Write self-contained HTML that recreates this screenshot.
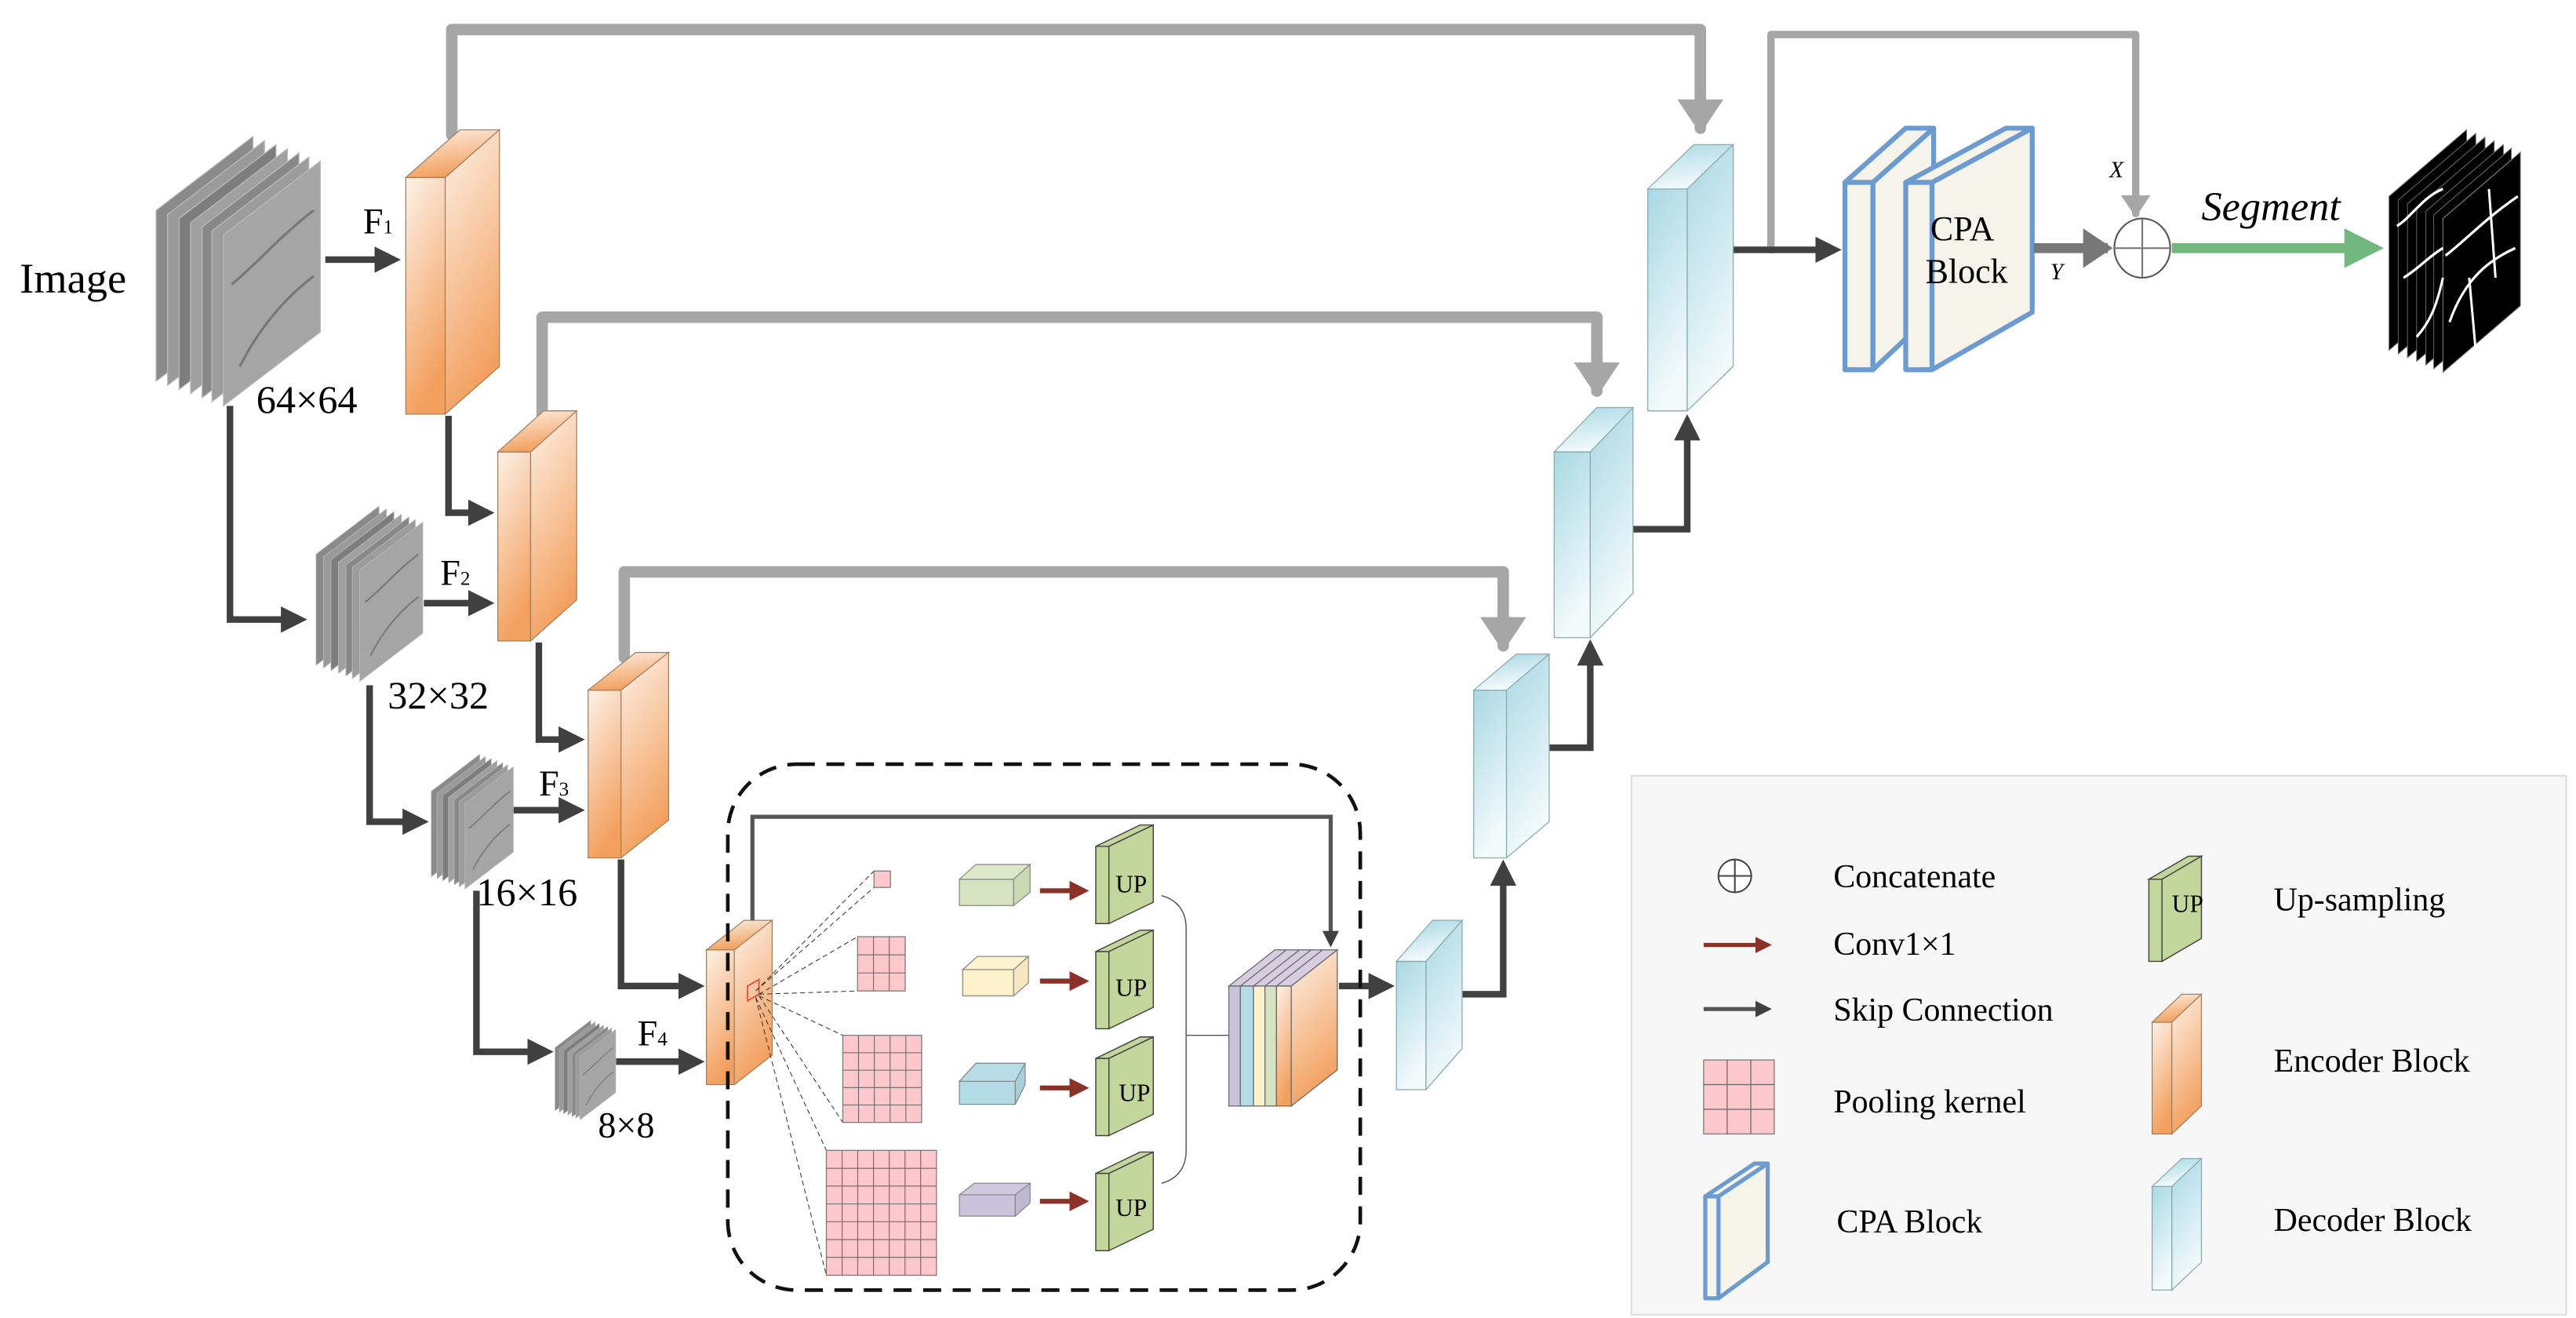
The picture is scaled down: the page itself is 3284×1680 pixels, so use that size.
<!DOCTYPE html>
<html><head><meta charset="utf-8"><style>html,body{margin:0;padding:0;background:#fff}svg{display:block}text{font-family:"Liberation Serif","DejaVu Serif",serif}</style></head>
<body>
<svg width="3284" height="1680" viewBox="0 0 1568 802" preserveAspectRatio="none" xmlns="http://www.w3.org/2000/svg" font-family="Liberation Serif, serif">
<defs>
<linearGradient id="og" x1="0" y1="0" x2="0.3" y2="1"><stop offset="0" stop-color="#fdf1e7"/><stop offset="1" stop-color="#f3a05e"/></linearGradient>
<linearGradient id="bg" x1="0" y1="0" x2="0.3" y2="1"><stop offset="0" stop-color="#a8d8e4"/><stop offset="1" stop-color="#f3fafc"/></linearGradient>
<marker id="ad" markerWidth="4" markerHeight="4" refX="3" refY="2" orient="auto" markerUnits="strokeWidth"><path d="M0,0L4,2L0,4z" fill="#404040"/></marker>
<marker id="ag" markerWidth="3" markerHeight="4" refX="2.5" refY="2" orient="auto" markerUnits="strokeWidth"><path d="M0,0L3,2L0,4z" fill="#a6a6a6"/></marker>
<marker id="ar" markerWidth="4" markerHeight="4" refX="3" refY="2" orient="auto" markerUnits="strokeWidth"><path d="M0,0L4,2L0,4z" fill="#8b3228"/></marker>
<marker id="ay" markerWidth="3" markerHeight="4" refX="2.5" refY="2" orient="auto" markerUnits="strokeWidth"><path d="M0,0L3,2L0,4z" fill="#777"/></marker>
<marker id="agr" markerWidth="4" markerHeight="4" refX="3" refY="2" orient="auto" markerUnits="strokeWidth"><path d="M0,0L4,2L0,4z" fill="#72b77e"/></marker>
<g id="stk">
<path d="M-41,-15l59,-45v104l-59,45z" fill="#8a8a8a" stroke="#bbb" stroke-width="0.6"/>
<path d="M-34,-12.5l59,-45v104l-59,45z" fill="#9a9a9a" stroke="#bbb" stroke-width="0.6"/>
<path d="M-27,-10l59,-45v104l-59,45z" fill="#7d7d7d" stroke="#bbb" stroke-width="0.6"/>
<path d="M-20,-7.5l59,-45v104l-59,45z" fill="#a0a0a0" stroke="#bbb" stroke-width="0.6"/>
<path d="M-13,-5l59,-45v104l-59,45z" fill="#888" stroke="#bbb" stroke-width="0.6"/>
<path d="M-7,-2.5l59,-45v104l-59,45z" fill="#9c9c9c" stroke="#bbb" stroke-width="0.6"/>
<path d="M0,0l59,-45v104l-59,45z" fill="#a5a5a5" stroke="#bbb" stroke-width="0.6"/>
<path d="M5,30c15,-12 30,-30 50,-45M10,80c10,-20 25,-40 45,-55" stroke="#777" stroke-width="1.5" fill="none"/>
</g>
<g id="seg">
<path d="M-41,-15l59,-45v104l-59,45z" fill="#000" stroke="#666" stroke-width="0.6"/>
<path d="M-34,-12.5l59,-45v104l-59,45z" fill="#000" stroke="#666" stroke-width="0.6"/>
<path d="M-27,-10l59,-45v104l-59,45z" fill="#000" stroke="#666" stroke-width="0.6"/>
<path d="M-20,-7.5l59,-45v104l-59,45z" fill="#000" stroke="#666" stroke-width="0.6"/>
<path d="M-13,-5l59,-45v104l-59,45z" fill="#000" stroke="#666" stroke-width="0.6"/>
<path d="M-7,-2.5l59,-45v104l-59,45z" fill="#000" stroke="#666" stroke-width="0.6"/>
<path d="M0,0l59,-45v104l-59,45z" fill="#000" stroke="#888" stroke-width="0.6"/>
<path d="M-35,5c10,-5 20,-20 35,-25M2,25c15,-10 30,-25 55,-40M5,70c10,-25 25,-40 50,-50M20,40l5,50M-30,40c10,-5 20,-15 30,-20M35,-20l5,60M-20,80c10,-10 15,-20 20,-40" stroke="#fff" stroke-width="1.8" fill="none"/>
</g>
</defs>

<g fill="none" stroke="#a6a6a6" stroke-linejoin="round" stroke-linecap="round">
<path d="M275,82V18H1035V78" stroke-width="7" marker-end="url(#ag)"/>
<path d="M330,252V193H972V238" stroke-width="7" marker-end="url(#ag)"/>
<path d="M380,400V348H915V393" stroke-width="7" marker-end="url(#ag)"/>
<path d="M1078,152V21H1300V130" stroke-width="4.5" marker-end="url(#ag)"/>
</g>

<g fill="none" stroke="#404040" stroke-width="4" stroke-linejoin="miter">
<path d="M198,158H240" marker-end="url(#ad)"/>
<path d="M140,247V377H183" marker-end="url(#ad)"/>
<path d="M273,253V312H297" marker-end="url(#ad)"/>
<path d="M258,367H297" marker-end="url(#ad)"/>
<path d="M225,417V500H257" marker-end="url(#ad)"/>
<path d="M312,493H352" marker-end="url(#ad)"/>
<path d="M328,391V450H352" marker-end="url(#ad)"/>
<path d="M378,523V600H425" marker-end="url(#ad)"/>
<path d="M290,542V640H333" marker-end="url(#ad)"/>
<path d="M375,646H425" marker-end="url(#ad)"/>
<path d="M815,600H845" marker-end="url(#ad)"/>
<path d="M890,605H915V527" marker-end="url(#ad)"/>
<path d="M943,455H968V393" marker-end="url(#ad)"/>
<path d="M994,322H1027V256" marker-end="url(#ad)"/>
<path d="M1055,152H1117" marker-end="url(#ad)"/>
</g>

<use href="#stk" transform="translate(136,143)"/>
<use href="#stk" transform="translate(219,347) scale(0.65)"/>
<use href="#stk" transform="translate(283,489) scale(0.5)"/>
<use href="#stk" transform="translate(353,643) scale(0.37)"/>
<use href="#seg" transform="translate(1487,133) scale(0.8,0.9)"/>

<g stroke="#a08060" stroke-width="0.6" fill="url(#og)">
<path d="M247,108h24v144h-24z"/><path d="M247,108l33,-29h24l-33,29z"/><path d="M271,108l33,-29v144l-33,29z"/>
<path d="M303,275h20v115h-20z"/><path d="M303,275l28,-25h20l-28,25z"/><path d="M323,275l28,-25v115l-28,25z"/>
<path d="M358,420h20v102h-20z"/><path d="M358,420l29,-23h20l-29,23z"/><path d="M378,420l29,-23v102l-29,23z"/>
<path d="M430,578h17v82h-17z"/><path d="M430,578l23,-18h17l-23,18z"/><path d="M447,578l23,-18v82l-23,18z"/>
</g>
<path d="M455,600l7,-4v9l-7,4z" fill="none" stroke="#f04040" stroke-width="0.8"/>
<g stroke="#8aa" stroke-width="0.6" fill="url(#bg)">
<path d="M1003,115h24v135h-24z"/><path d="M1003,115l28,-27h24l-28,27z"/><path d="M1027,115l28,-27v135l-28,27z"/>
<path d="M946,275h22v113h-22z"/><path d="M946,275l26,-27h22l-26,27z"/><path d="M968,275l26,-27v113l-26,27z"/>
<path d="M897,420h20v102h-20z"/><path d="M897,420l26,-22h20l-26,22z"/><path d="M917,420l26,-22v102l-26,22z"/>
<path d="M850,585h18v78h-18z"/><path d="M850,585l22,-25h18l-22,25z"/><path d="M868,585l22,-25v78l-22,25z"/>
</g>

<g font-size="22" fill="#000">
<text x="12" y="178" font-size="26">Image</text>
<text x="221" y="142">F<tspan font-size="12">1</tspan></text>
<text x="268" y="356">F<tspan font-size="12">2</tspan></text>
<text x="328" y="484">F<tspan font-size="12">3</tspan></text>
<text x="388" y="636">F<tspan font-size="12">4</tspan></text>
<text x="156" y="251" font-size="24">64×64</text>
<text x="236" y="431" font-size="24">32×32</text>
<text x="290" y="551" font-size="24">16×16</text>
<text x="364" y="692" font-size="22">8×8</text>
</g>

<rect x="443" y="465" width="385" height="320" rx="42" fill="none" stroke="#111" stroke-width="2.2" stroke-dasharray="11,7"/>
<path d="M458,560V497H810V574" fill="none" stroke="#555" stroke-width="2.5" marker-end="url(#ad)"/>
<g stroke="#333" stroke-width="0.5" stroke-dasharray="3,2" fill="none">
<path d="M460,603L532,530M460,603L532,540M462,605L522,570M462,605L522,603M462,606L513,630M462,606L513,683M460,607L503,700M460,607L503,776"/>
</g>
<g fill="#fcc8cb" stroke="#777" stroke-width="0.6">
<rect x="532" y="530" width="10" height="10"/>
<rect x="522" y="570" width="29" height="33"/>
<rect x="513" y="630" width="48" height="53"/>
<rect x="503" y="700" width="67" height="76"/>
</g>
<g stroke="#666" stroke-width="0.5">
<path d="M531.7,570v33M541.3,570v33M522,581h29M522,592h29"/>
<path d="M522.6,630v53M532.2,630v53M541.8,630v53M551.4,630v53M513,640.6h48M513,651.2h48M513,661.8h48M513,672.4h48"/>
<path d="M512.6,700v76M522.1,700v76M531.7,700v76M541.3,700v76M550.9,700v76M560.4,700v76M503,710.9h67M503,721.7h67M503,732.6h67M503,743.4h67M503,754.3h67M503,765.1h67"/>
</g>
<g stroke="#888" stroke-width="0.6">
<path d="M584,535h33v16h-33z" fill="#d6e3c0"/><path d="M584,535l10,-9h33l-10,9z" fill="#dce8c8"/><path d="M617,535l10,-9v17l-10,8z" fill="#cbdab3"/>
<path d="M586,590h31v16h-31z" fill="#fdf1cc"/><path d="M586,590l9,-8h31l-9,8z" fill="#fff3d0"/><path d="M617,590l9,-8v16l-9,8z" fill="#f5e7be"/>
<path d="M584,658h34v14h-34z" fill="#b3dce6"/><path d="M584,658l10,-11h30l-6,11z" fill="#b7dee8"/><path d="M618,658l6,-11v13l-6,12z" fill="#a6d0db"/>
<path d="M584,727h34v13h-34z" fill="#cbc3dc"/><path d="M584,727l9,-7h34l-9,7z" fill="#cfc8df"/><path d="M618,727l9,-7v12l-9,8z" fill="#c0b8d3"/>
</g>
<g stroke="#8b3228" stroke-width="3" fill="none">
<path d="M633,542H660" marker-end="url(#ar)"/><path d="M633,597H660" marker-end="url(#ar)"/><path d="M633,662H660" marker-end="url(#ar)"/><path d="M633,731H660" marker-end="url(#ar)"/>
</g>
<g stroke="#444" stroke-width="0.7" fill="#c3d69b">
<path d="M667,515h8v47h-8z"/><path d="M667,515l27,-13h8l-27,13z"/><path d="M675,515l27,-13v47l-27,13z"/>
<path d="M667,579h8v47h-8z"/><path d="M667,579l27,-13h8l-27,13z"/><path d="M675,579l27,-13v47l-27,13z"/>
<path d="M667,644h8v47h-8z"/><path d="M667,644l27,-13h8l-27,13z"/><path d="M675,644l27,-13v47l-27,13z"/>
<path d="M667,714h8v47h-8z"/><path d="M667,714l27,-13h8l-27,13z"/><path d="M675,714l27,-13v47l-27,13z"/>
</g>
<g font-size="15" fill="#000"><text x="679" y="543">UP</text><text x="679" y="606">UP</text><text x="681" y="670">UP</text><text x="679" y="740">UP</text></g>
<path d="M707,545c8,2 15,8 15,20V700c0,12 -7,18 -15,20M722,630H748" fill="none" stroke="#555" stroke-width="0.7"/>
<g stroke="#666" stroke-width="0.6">
<path d="M748,600l28,-22h38l-28,22z" fill="#d6cde0"/>
<rect x="748" y="600" width="7" height="73" fill="#cbc3dc"/>
<rect x="755" y="600" width="8" height="73" fill="#b3dce6"/>
<rect x="763" y="600" width="7" height="73" fill="#fdf1cc"/>
<rect x="770" y="600" width="7" height="73" fill="#d6e3c0"/>
<rect x="777" y="600" width="9" height="73" fill="url(#og)"/>
<path d="M755,600l28,-22M763,600l28,-22M770,600l28,-22M777,600l28,-22" fill="none"/>
<path d="M786,600l28,-22v73l-28,22z" fill="url(#og)"/>
</g>

<g fill="#f5f3ea" stroke="#6c9bd2" stroke-width="3" stroke-linejoin="round">
<path d="M1140,111l37,-33v112l-37,35z"/>
<path d="M1123,111l37,-33h17l-37,33z"/>
<rect x="1123" y="111" width="17" height="114"/>
<path d="M1176,111l61,-33v112l-61,35z"/>
<path d="M1160,111l61,-33h16l-61,33z"/>
<rect x="1160" y="111" width="16" height="114"/>
</g>
<text x="1175" y="146" font-size="21">CPA</text>
<text x="1172" y="172" font-size="21">Block</text>
<path d="M1238,151H1283" stroke="#777" stroke-width="6" fill="none" marker-end="url(#ay)"/>
<ellipse cx="1304" cy="151" rx="17" ry="18" fill="#fff" stroke="#555" stroke-width="1"/>
<path d="M1287,151h34M1304,133v36" stroke="#777" stroke-width="1"/>
<text x="1284" y="108" font-size="14" font-style="italic">X</text>
<text x="1248" y="170" font-size="14" font-style="italic">Y</text>
<path d="M1322,151H1445" stroke="#72b77e" stroke-width="6" fill="none" marker-end="url(#agr)"/>
<text x="1340" y="134" font-size="25" font-style="italic">Segment</text>

<rect x="993" y="472" width="569" height="328" fill="#f7f7f7" stroke="#ddd" stroke-width="1"/>
<circle cx="1056" cy="533" r="10" fill="#fff" stroke="#444" stroke-width="1"/>
<path d="M1046,533h20M1056,523v20" stroke="#444" stroke-width="1"/>
<path d="M1037,575H1076" stroke="#8b3228" stroke-width="2.5" marker-end="url(#ar)"/>
<path d="M1037,614H1076" stroke="#555" stroke-width="2.5" marker-end="url(#ad)"/>
<g fill="#fcc8cb" stroke="#777" stroke-width="0.6"><rect x="1037" y="645" width="43" height="45"/></g>
<path d="M1051.3,645v45M1065.7,645v45M1037,660h43M1037,675h43" stroke="#666" stroke-width="0.6"/>
<g fill="#f5f3ea" stroke="#6c9bd2" stroke-width="2.5" stroke-linejoin="round">
<path d="M1046,728l30,-20v60l-30,22z"/><path d="M1038,728l30,-20h8l-30,20z"/><rect x="1038" y="728" width="8" height="62"/>
</g>
<g stroke="#444" stroke-width="0.7" fill="#c3d69b">
<path d="M1308,535h8v50h-8z"/><path d="M1308,535l24,-14h8l-24,14z"/><path d="M1316,535l24,-14v50l-24,14z"/>
</g>
<text x="1322" y="555" font-size="15">UP</text>
<g stroke="#a08060" stroke-width="0.6" fill="url(#og)">
<path d="M1310,622h12v68h-12z"/><path d="M1310,622l18,-17h12l-18,17z"/><path d="M1322,622l18,-17v68l-18,17z"/>
</g>
<g stroke="#8aa" stroke-width="0.6" fill="url(#bg)">
<path d="M1310,722h12v63h-12z"/><path d="M1310,722l18,-17h12l-18,17z"/><path d="M1322,722l18,-17v63l-18,17z"/>
</g>
<g font-size="20" fill="#000">
<text x="1116" y="540">Concatenate</text>
<text x="1116" y="581">Conv1×1</text>
<text x="1116" y="621">Skip Connection</text>
<text x="1116" y="677">Pooling kernel</text>
<text x="1118" y="750">CPA Block</text>
<text x="1384" y="554">Up-sampling</text>
<text x="1384" y="652">Encoder Block</text>
<text x="1384" y="749">Decoder Block</text>
</g>
</svg>
</body></html>
